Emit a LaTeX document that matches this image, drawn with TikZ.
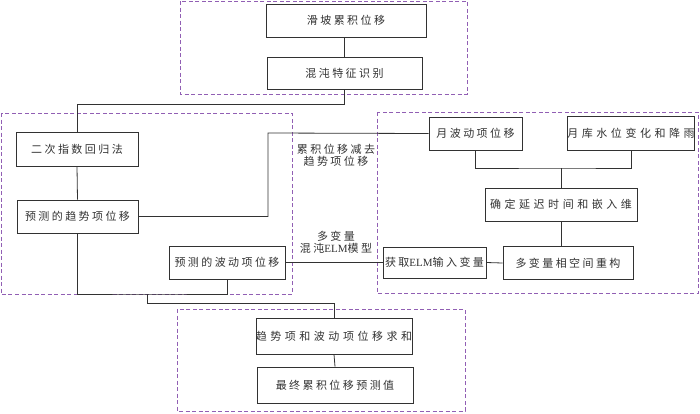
\documentclass[tikz,border=0pt]{standalone}
\usepackage{fontspec}
\setmainfont{Liberation Serif}
\newfontfamily\cjk[LetterSpace=22]{Noto Sans CJK SC}
\newfontfamily\cjkwide[LetterSpace=32]{Noto Sans CJK SC}
\usetikzlibrary{calc}

\definecolor{framepurple}{RGB}{145,95,180}
\definecolor{inkgray}{RGB}{50,50,50}

\begin{document}
\begin{tikzpicture}[x=1pt,y=-1pt,
	box/.style={draw=inkgray, line width=0.8pt, inner sep=0pt, text=inkgray,
		font=\cjk\fontsize{11}{12}\selectfont},
	widebox/.style={box, font=\cjkwide\fontsize{11}{12}\selectfont},
	frame/.style={draw=framepurple, line width=1pt, dash pattern=on 4pt off 2.5pt},
	note/.style={align=center, inner sep=0pt, text=inkgray,
		font=\cjk\fontsize{11}{12}\selectfont},
	link/.style={draw=inkgray, line width=0.8pt}]
	\useasboundingbox (0,0) rectangle (700,413);
	
	% dashed groups
	\draw[frame] (180,1) rectangle (467,94);
	\draw[frame] (1,113) rectangle (292,294);
	\draw[frame] (377,112) rectangle (698,293);
	\draw[frame] (177,309) rectangle (465,411);
	
	% boxes
	\node[box, minimum width=160pt, minimum height=33pt] (slide) at (346,20.5) {滑坡累积位移};
	\node[box, minimum width=155pt, minimum height=32pt] (chaos) at (344.5,73) {混沌特征识别};
	\node[box, minimum width=122pt, minimum height=34pt] (quad) at (77,149) {二次指数回归法};
	\node[box, minimum width=121pt, minimum height=33pt] (trend) at (77.5,216.5) {预测的趋势项位移};
	\node[box, minimum width=116pt, minimum height=33pt] (fluct) at (227,262.5) {预测的波动项位移};
	\node[box, minimum width=93pt, minimum height=33pt] (month) at (475.5,133.5) {月波动项位移};
	\node[widebox, minimum width=120pt, minimum height=34pt] (rain) at (631,133) {月库水位变化和降雨};
	\node[widebox, minimum width=152pt, minimum height=33pt] (delay) at (561,204.5) {确定延迟时间和嵌入维};
	\node[box, minimum width=130pt, minimum height=33pt] (recon) at (568,263) {多变量相空间重构};
	\node[box, minimum width=103pt, minimum height=31pt] (elm) at (434.5,262.5) {获取{\rmfamily ELM}输入变量};
	\node[widebox, minimum width=154pt, minimum height=36pt] (sum) at (334,336) {趋势项和波动项位移求和};
	\node[box, minimum width=156pt, minimum height=36pt] (final) at (335,385) {最终累积位移预测值};
	
	% labels
	\node[note] (minus) at (336,155) {累积位移减去\\趋势项位移};
	\node[note] (model) at (336,242) {多变量\\混沌{\rmfamily ELM}模型};
	
	% bends
	\coordinate (split) at (77,104);
	\coordinate (bend) at (268,133);
	\coordinate (join) at (561,168);
	\coordinate (merge) at (147,294);
	\coordinate (down) at (334,303);
	
	% connectors
	\draw[link] (chaos.north) -- (chaos.north |- slide.south);
	\draw[link] (chaos.south) |- (split) -- (quad.north);
	\draw[link] (quad.south) -- (trend.north);
	\draw[link] (trend.east) -| (bend) -- (month.west);
	\draw[link] (month.south) |- (join) -| (rain.south);
	\draw[link] (join) -- (delay.north);
	\draw[link] (delay.south) -- (delay.south |- recon.north);
	\draw[link] (recon.west) -- (elm.east);
	\draw[link] (elm.west) -- (fluct.east);
	\draw[link] (trend.south) |- (merge) -| (fluct.south);
	\draw[link] (merge) |- (down) -- (sum.north);
	\draw[link] (sum.south) -- (final.north);
\end{tikzpicture}
\end{document}
